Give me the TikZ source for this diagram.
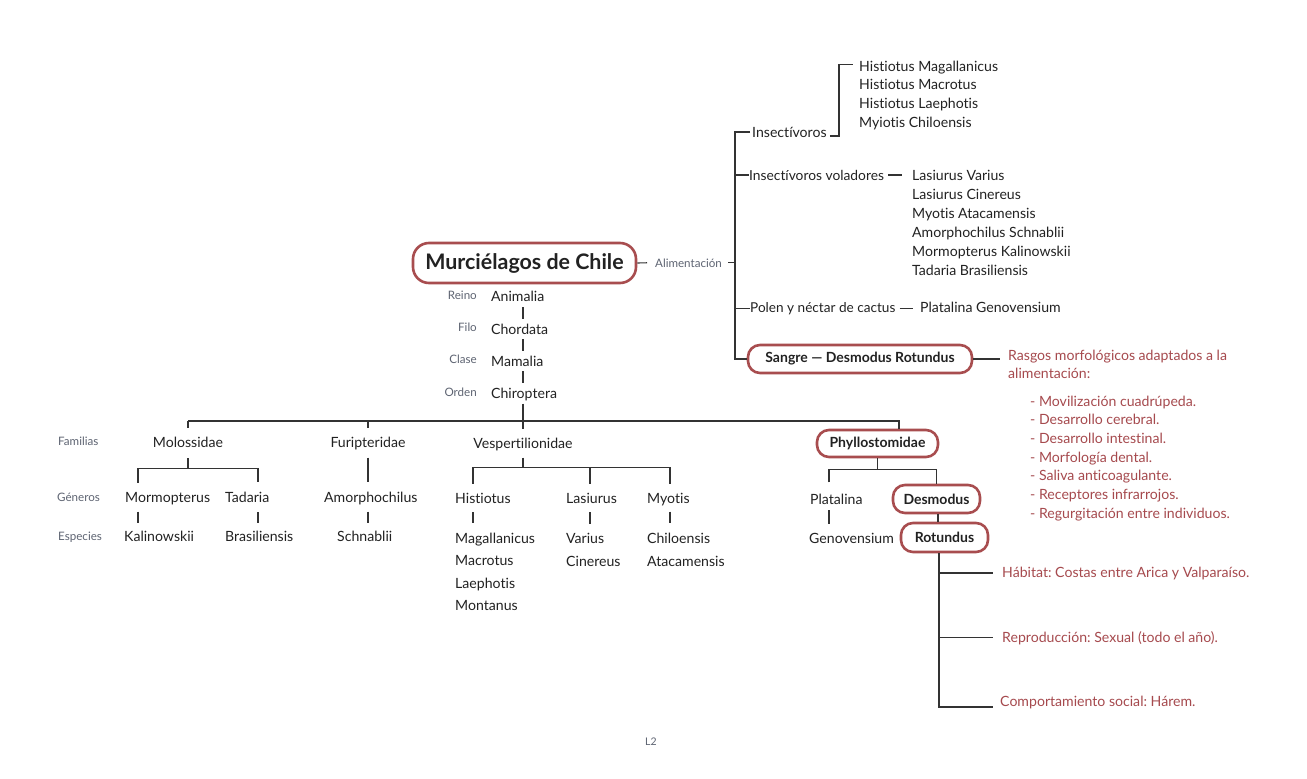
\documentclass[tikz,border=0pt]{standalone}
\usepackage{fontspec}
\setmainfont{Lato}[Ligatures=NoCommon]
\usetikzlibrary{positioning, calc}
\definecolor{vino}{HTML}{A84D4F}
\definecolor{vinotexto}{HTML}{A64A4E}
\definecolor{gris}{HTML}{5E6472}
\definecolor{tinta}{HTML}{222222}
\definecolor{linea}{HTML}{333333}
\tikzset{
  txt/.style={inner sep=0pt, anchor=base west, text=tinta, font=\fontsize{14.1}{16}\selectfont},
  rango/.style={inner sep=0pt, text=gris, font=\fontsize{11.6}{13}\selectfont},
  nota/.style={txt, text=vinotexto},
  caja/.style={draw=vino, line width=2.6pt, rounded corners=12pt, inner sep=0pt, text=tinta, font=\bfseries\fontsize{14}{16}\selectfont},
  rama/.style={draw=linea, line width=1.1pt},
}
\frenchspacing

\begin{document}
\begin{tikzpicture}[x=1pt, y=-1pt]
  \useasboundingbox[fill=white] (0,0) rectangle (1307,779);

  % nodo central y alimentacion
  \node[caja, minimum width=223pt, minimum height=40pt, rounded corners=16pt,
        font=\bfseries\fontsize{21.4}{24}\selectfont] (titulo) at (524.5,263) {Murciélagos de Chile};
  \node[rango, anchor=base west] (alim) at (655,267) {Alimentación};
  \coordinate (eje) at (735,0);

  \node[txt] (insectivoros) at (752,137) {Insectívoros};
  \node[txt, font=\fontsize{13.8}{16}\selectfont] (voladores) at (749,180) {Insectívoros voladores};
  \node[txt, font=\fontsize{13.6}{16}\selectfont] (polen) at (750,312) {Polen y néctar de cactus};
  \node[caja, minimum width=224pt, minimum height=28pt] (sangre) at (860,359) {Sangre — Desmodus Rotundus};

  \foreach \especie [count=\i from 0] in {Histiotus Magallanicus, Histiotus Macrotus, Histiotus Laephotis, Myiotis Chiloensis}
    \node[txt] (insect\i) at (859,71+18.8*\i) {\especie};
  \foreach \especie [count=\i from 0] in {Lasiurus Varius, Lasiurus Cinereus, Myotis Atacamensis, Amorphochilus Schnablii, Mormopterus Kalinowskii, Tadaria Brasiliensis}
    \node[txt] (volad\i) at (912,180+19*\i) {\especie};
  \node[txt] (platgen) at (920,312) {Platalina Genovensium};

  \draw[rama] (titulo.east) -- ([xshift=-8pt]alim.west);
  \draw[rama] ([xshift=6pt]alim.east) -- (alim.east -| eje);
  \draw[rama] ([xshift=-2pt]insectivoros.west) -- (insectivoros.west -| eje) |- (sangre.west);
  \draw[rama] (voladores.west -| eje) -- (voladores.west);
  \draw[rama] (polen.west -| eje) -- (polen.west);
  \draw[rama] ([xshift=3pt,yshift=1pt]insectivoros.base east) -| ([xshift=-20pt,yshift=3pt]insect0.west) -- ([xshift=-6pt,yshift=3pt]insect0.west);
  \draw[rama] ([xshift=4pt]voladores.east) -- ([xshift=-10pt]volad0.west |- voladores.east);
  \draw[rama] ([xshift=4pt]polen.east) -- ([xshift=-7pt]platgen.west |- polen.east);

  % rasgos de sangre
  \node[nota] (rasgos) at (1008,360) {Rasgos morfológicos adaptados a la};
  \node[nota] (rasgosb) at (1008,378) {alimentación:};
  \foreach \rasgo [count=\i from 0] in {- Movilización cuadrúpeda., - Desarrollo cerebral., - Desarrollo intestinal., - Morfología dental., - Saliva anticoagulante., - Receptores infrarrojos., - Regurgitación entre individuos.}
    \node[nota] (rasgo\i) at (1030,406+18.7*\i) {\rasgo};
  \draw[rama] (sangre.east) -- ([xshift=-8pt]sangre.east -| rasgos.west);

  % clasificacion
  \coordinate (tronco) at (523,0);
  \coordinate (barra) at (523,421);
  \node[txt] (animalia) at (491,301) {Animalia};
  \node[txt] (chordata) at (491,334) {Chordata};
  \node[txt] (mamalia) at (491,366) {Mamalia};
  \node[txt] (chiroptera) at (491,398) {Chiroptera};
  \node[rango, anchor=base east] (reino) at (477,299) {Reino};
  \node[rango, anchor=base east] (filo) at (477,331) {Filo};
  \node[rango, anchor=base east] (clase) at (477,363) {Clase};
  \node[rango, anchor=base east] (orden) at (477,396) {Orden};
  \draw[rama, shorten <=6pt, shorten >=4pt] (animalia.south -| tronco) -- (chordata.north -| tronco);
  \draw[rama, shorten <=5pt, shorten >=4pt] (chordata.south -| tronco) -- (mamalia.north -| tronco);
  \draw[rama, shorten <=5pt, shorten >=4pt] (mamalia.south -| tronco) -- (chiroptera.north -| tronco);
  \draw[rama, shorten <=3pt] (chiroptera.south -| tronco) -- (barra);

  \node[rango, anchor=base west] (familias) at (58,445) {Familias};
  \node[rango, anchor=base west] (generos) at (57,501) {Géneros};
  \node[rango, anchor=base west] (especies) at (58,540) {Especies};

  % familias
  \node[txt, anchor=base] (molossidae) at (188,447) {Molossidae};
  \node[txt, anchor=base] (furi) at (368,447) {Furipteridae};
  \node[txt, anchor=base] (vesper) at (523,448) {Vespertilionidae};
  \node[caja, minimum width=121pt, minimum height=27pt] (phyllo) at (877.5,443.5) {Phyllostomidae};
  \draw[rama] (molossidae.north |- barra) -- ([xshift=21.5pt]phyllo.north |- barra) -- ([xshift=21.5pt]phyllo.north);
  \draw[rama, shorten >=8pt] (molossidae.north |- barra) -- (molossidae.north);
  \draw[rama, shorten >=8pt] (furi.north |- barra) -- (furi.north);
  \draw[rama, shorten >=8pt] (barra) -- (vesper.north);

  % generos y especies
  \node[txt] (mormo) at (125,502) {Mormopterus};
  \node[txt] (tadaria) at (225,502) {Tadaria};
  \node[txt] (kalin) at (124,541) {Kalinowskii};
  \node[txt] (brasil) at (225,541) {Brasiliensis};
  \draw[rama, shorten <=11pt] (molossidae.south) -- ++(0,21) coordinate (mB);
  \draw[rama] ([xshift=13pt,yshift=9pt]mormo.north west) |- (mB) -| ([xshift=33pt,yshift=9pt]tadaria.north west);
  \draw[rama, shorten <=7pt, shorten >=7pt] ([xshift=13pt]mormo.south west) -- ([xshift=13pt]mormo.south west |- kalin.north);
  \draw[rama, shorten <=10pt, shorten >=7pt] ([xshift=33pt]tadaria.south west) -- ([xshift=33pt]tadaria.south west |- brasil.north);

  \node[txt] (amorph) at (324,502) {Amorphochilus};
  \node[txt] (schnab) at (337,541) {Schnablii};
  \draw[rama, shorten <=8pt, shorten >=9pt] (furi.south) -- (furi.south |- amorph.north);
  \draw[rama, shorten <=7pt, shorten >=7pt] (furi.south |- amorph.south) -- (furi.south |- schnab.north);

  \node[txt] (hist) at (455,503) {Histiotus};
  \node[txt] (lasiurus) at (566,503) {Lasiurus};
  \node[txt] (myotis) at (647,503) {Myotis};
  \foreach \sp [count=\i from 0] in {Magallanicus, Macrotus, Laephotis, Montanus}
    \node[txt] (hist\i) at (455,543+22.6*\i) {\sp};
  \node[txt] (lasi0) at (566,543) {Varius};
  \node[txt] (lasi1) at (566,566) {Cinereus};
  \node[txt] (myo0) at (647,543) {Chiloensis};
  \node[txt] (myo1) at (647,566) {Atacamensis};
  \draw[rama, shorten <=7pt] (vesper.south) -- ++(0,17) coordinate (vB);
  \draw[rama] ([xshift=18pt,yshift=9pt]hist.north west) |- (vB) -| ([xshift=23pt,yshift=9pt]myotis.north west);
  \draw[rama] ([xshift=24pt]lasiurus.north west |- vB) -- ([xshift=24pt,yshift=9pt]lasiurus.north west);
  \draw[rama, shorten <=9pt, shorten >=9pt] ([xshift=18pt]hist.south west) -- ([xshift=18pt]hist.south west |- hist0.north);
  \draw[rama, shorten <=9pt, shorten >=9pt] ([xshift=24pt]lasiurus.south west) -- ([xshift=24pt]lasiurus.south west |- lasi0.north);
  \draw[rama, shorten <=6pt, shorten >=9pt] ([xshift=23pt]myotis.south west) -- ([xshift=23pt]myotis.south west |- myo0.north);

  % phyllostomidae
  \node[txt] (platalina) at (810,504) {Platalina};
  \node[txt] (genov) at (809,543) {Genovensium};
  \node[caja, minimum width=87pt, minimum height=28pt] (desmodus) at (936.5,499) {Desmodus};
  \node[caja, minimum width=87pt, minimum height=29pt] (rotundus) at (944.5,537.5) {Rotundus};
  \draw[rama] (phyllo.south) -- ++(0,11) coordinate (pB);
  \draw[rama] ([xshift=19pt,yshift=11pt]platalina.north west) |- (desmodus.north |- pB) -- (desmodus.north);
  \draw[rama, shorten <=6pt, shorten >=9pt] ([xshift=19pt]platalina.south west) -- ([xshift=19pt]platalina.south west |- genov.north);
  \draw[rama] ([xshift=1.5pt]desmodus.south) -- ([xshift=1.5pt]desmodus.south |- rotundus.north);

  % rotundus
  \node[nota] (habitat) at (1002,577) {Hábitat: Costas entre Arica y Valparaíso.};
  \node[nota] (repro) at (1002,642) {Reproducción: Sexual (todo el año).};
  \node[nota] (comport) at (1000,706) {Comportamiento social: Hárem.};
  \coordinate (ejeR) at ([xshift=-5.5pt]rotundus.south);
  \draw[rama] (ejeR) |- ([xshift=-7pt,yshift=-1pt]comport.base west);
  \draw[rama] (ejeR |- habitat.west) -- ([xshift=-9pt]habitat.west);
  \draw[rama] (ejeR |- repro.west) -- ([xshift=-9pt]repro.west);

  \node[rango, anchor=base west, font=\fontsize{10.5}{12}\selectfont] (pagina) at (645,745) {L2};
\end{tikzpicture}
\end{document}
